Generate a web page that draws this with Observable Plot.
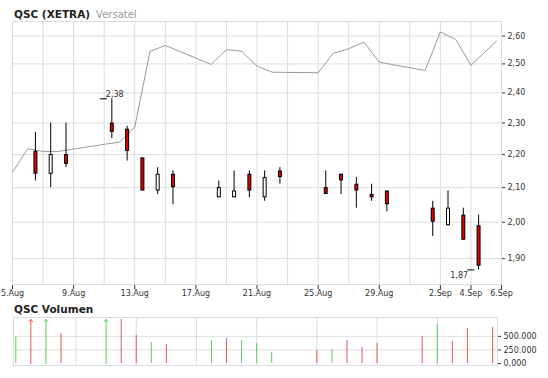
<!DOCTYPE html>
<html><head><meta charset="utf-8">
<script src="https://cdn.jsdelivr.net/npm/d3@7"></script>
<script src="https://cdn.jsdelivr.net/npm/@observablehq/plot@0.6"></script>
<style>
body{margin:0;background:#fff;font-family:"DejaVu Sans",Verdana,sans-serif;}
#wrap{position:relative;width:548px;height:378px;overflow:hidden;background:#fff}
.title{position:absolute;left:14px;font-size:10.5px;font-weight:bold;color:#222;white-space:nowrap;line-height:1}
.title span{font-weight:normal;color:#999;font-size:10px;margin-left:6px}
#main,#vol{position:absolute;left:0}
#main{top:0}
#vol{top:300px}
#main svg g[aria-label^="x-axis"] line{stroke-dasharray:1 1}
</style></head><body>
<div id="wrap">
  <div id="main"></div>
  <div id="vol"></div>
  <div class="title" style="top:8.6px">QSC (XETRA)<span>Versatel</span></div>
  <div class="title" style="top:304px">QSC Volumen</div>
</div>
<script>
// ---- Candles (QSC, XETRA) ----
const candleDays = ["2008-08-06","2008-08-07","2008-08-08","2008-08-11","2008-08-12","2008-08-13","2008-08-14","2008-08-15",
  "2008-08-18","2008-08-19","2008-08-20","2008-08-21","2008-08-22","2008-08-25","2008-08-26","2008-08-27","2008-08-28","2008-08-29",
  "2008-09-01","2008-09-02","2008-09-03","2008-09-04"];
const openP  = [2.21,2.14,2.20,2.30,2.28,2.19,2.09,2.14, 2.07,2.07,2.14,2.07,2.15,2.10,2.14,2.11,2.08,2.09, 2.04,1.99,2.02,1.99];
const highP  = [2.27,2.30,2.30,2.38,2.29,2.19,2.16,2.15, 2.12,2.15,2.15,2.15,2.16,2.15,2.14,2.13,2.11,2.09, 2.06,2.09,2.04,2.02];
const lowP   = [2.12,2.10,2.16,2.25,2.18,2.09,2.08,2.05, 2.07,2.07,2.07,2.06,2.11,2.08,2.08,2.04,2.06,2.03, 1.96,1.99,1.95,1.87];
const closeP = [2.14,2.20,2.17,2.27,2.21,2.09,2.14,2.10, 2.10,2.09,2.09,2.13,2.13,2.08,2.12,2.09,2.07,2.05, 2.00,2.04,1.95,1.88];

// ---- Comparison line (Versatel, in chart price units) ----
const lineTimes = ["2008-08-05T00:00","2008-08-06T00:00","2008-08-07T00:00","2008-08-08T00:00","2008-08-11T00:00","2008-08-12T00:00",
  "2008-08-13T00:00","2008-08-14T00:00","2008-08-15T00:00","2008-08-18T00:00","2008-08-19T00:00","2008-08-20T00:00","2008-08-21T00:00",
  "2008-08-22T00:00","2008-08-25T00:00","2008-08-26T00:00","2008-08-27T00:00","2008-08-28T00:00","2008-08-29T00:00",
  "2008-09-01T00:00","2008-09-02T00:00","2008-09-03T00:00","2008-09-04T00:00","2008-09-05T16:15"];
const lineValues = [2.146,2.218,2.210,2.210,2.232,2.239,2.287,2.545,2.566,2.498,2.551,2.545,2.492,2.471,2.469,2.538,2.554,2.578,2.506,
  2.477,2.615,2.588,2.495,2.582];

// ---- Volume ----
const volTimes = ["2008-08-05T00:00","2008-08-06T00:00","2008-08-07T00:00","2008-08-08T00:00","2008-08-11T00:00","2008-08-12T00:00",
  "2008-08-13T00:00","2008-08-14T00:00","2008-08-15T00:00","2008-08-18T00:00","2008-08-19T00:00","2008-08-20T00:00","2008-08-21T00:00",
  "2008-08-22T00:00","2008-08-25T00:00","2008-08-26T00:00","2008-08-27T00:00","2008-08-28T00:00","2008-08-29T00:00",
  "2008-09-01T00:00","2008-09-02T00:00","2008-09-03T00:00","2008-09-04T00:00","2008-09-05T16:15"];
const volValues = [485000,1200000,1000000,553000,1100000,811000,516000,387000,350000,424000,461000,424000,369000,203000,240000,258000,
  424000,295000,369000,498000,719000,406000,645000,664000];
const volUp = [1,0,1,0,1,0,0,1,0,1,0,1,1,1,0,1,0,0,0,0,1,0,0,0];

// ---- Axes ----
const xStart = "2008-08-05", xEnd = "2008-09-06";
const xTickDays = ["2008-08-05","2008-08-09","2008-08-13","2008-08-17","2008-08-21","2008-08-25","2008-08-29","2008-09-02","2008-09-04","2008-09-06"];
const xTickLabels = ["5.Aug","9.Aug","13.Aug","17.Aug","21.Aug","25.Aug","29.Aug","2.Sep","4.Sep","6.Sep"];
const yTicks = [1.9,2.0,2.1,2.2,2.3,2.4,2.5,2.6];
const yTickLabels = ["1,90","2,00","2,10","2,20","2,30","2,40","2,50","2,60"];
const yDomain = [1.832, 2.654];
const volTicks = [0,250000,500000];
const volTickLabels = ["0,000","250.000","500.000"];
const volMax = 848000;

// ---- build ----
const day = s => new Date(s + "T00:00Z");
const tm = s => new Date(s + "Z");
const xFrom = day(xStart), xTo = day(xEnd);
const candles = candleDays.map((s, i) => ({t: d3.utcHour.offset(day(s), 12), o: openP[i], h: highP[i], l: lowP[i], c: closeP[i]}));
const downC = candles.filter(d => d.c < d.o), upC = candles.filter(d => d.c >= d.o);
const lineData = lineTimes.map((s, i) => ({t: tm(s), v: lineValues[i]}));
const vol = volTimes.map((s, i) => ({t: tm(s), v: volValues[i], up: volUp[i] === 1}));
const xTicks = xTickDays.map(day);
const gridMain = d3.utcDay.range(xFrom, d3.utcDay.offset(xTo, 1), 2);
const gridVol = d3.utcDay.range(d3.utcDay.offset(xFrom, 4), xTo, 4);
const fmt = v => d3.format(".2f")(v).replace(".", ",");
const hiC = candles[d3.maxIndex(candles, d => d.h)];
const loC = candles[d3.minIndex(candles, d => d.l)];
const bodyTop = d => Math.max(d.o, d.c), bodyBot = d => Math.min(d.o, d.c);
const gridColor = "#dcdcdc";

const mainPlot = Plot.plot({
  width: 548, height: 300, marginTop: 21, marginBottom: 16, marginLeft: 12, marginRight: 47,
  style: {fontFamily: "'DejaVu Sans', Verdana, sans-serif", fontSize: "8px", color: "#333", background: "transparent"},
  x: {type: "utc", domain: [xFrom, xTo], ticks: xTicks, tickFormat: d => xTickLabels[xTicks.findIndex(t => +t === +d)], tickSize: 5, tickPadding: 1, label: null},
  y: {type: "log", domain: yDomain, axis: "right", ticks: yTicks, tickFormat: d => yTickLabels[yTicks.findIndex(t => Math.abs(t - d) < 1e-9)], tickSize: 3, tickPadding: 3, label: null},
  marks: [
    Plot.ruleY(yTicks, {stroke: gridColor}),
    Plot.ruleX(gridMain, {stroke: gridColor}),
    Plot.frame({stroke: gridColor}),
    Plot.line(lineData, {x: "t", y: "v", stroke: "#9a9a9a", strokeWidth: 1}),
    Plot.ruleX(candles, {x: "t", y1: "l", y2: "h", stroke: "#000", strokeWidth: 1}),
    Plot.ruleX(candles, {x: "t", y1: bodyTop, y2: bodyBot, stroke: "#000", strokeWidth: 4}),
    Plot.ruleX(downC, {x: "t", y1: bodyTop, y2: bodyBot, insetTop: 1, insetBottom: 1, stroke: "#e00000", strokeWidth: 2}),
    Plot.ruleX(upC, {x: "t", y1: bodyTop, y2: bodyBot, insetTop: 1, insetBottom: 1, stroke: "#fff", strokeWidth: 2}),
    Plot.ruleY([hiC], {y: "h", x1: d => d3.utcHour.offset(d.t, -18), x2: d => d3.utcHour.offset(d.t, -7), stroke: "#000"}),
    Plot.text([hiC], {x: "t", y: "h", text: d => fmt(d.h), textAnchor: "start", dx: -6, dy: -4, fill: "#333"}),
    Plot.ruleY([loC], {y: "l", x1: d => d3.utcHour.offset(d.t, -17), x2: d => d3.utcHour.offset(d.t, -6), stroke: "#000"}),
    Plot.text([loC], {x: "t", y: "l", text: d => fmt(d.l), textAnchor: "end", dx: -10.5, dy: 6, fill: "#333"})
  ]
});
document.getElementById("main").appendChild(mainPlot);

const clipped = vol.filter(d => d.v > volMax);
const shown = vol.filter(d => d.v <= volMax);
const volPlot = Plot.plot({
  width: 548, height: 78, marginTop: 17, marginBottom: 13, marginLeft: 13, marginRight: 51,
  style: {fontFamily: "'DejaVu Sans', Verdana, sans-serif", fontSize: "8px", color: "#333", background: "transparent"},
  x: {type: "utc", domain: [xFrom, xTo], insetLeft: 2.3, axis: null},
  y: {domain: [0, volMax], insetBottom: 2, axis: "right", ticks: volTicks, tickFormat: d => volTickLabels[volTicks.indexOf(d)], tickSize: 3, tickPadding: 3, label: null},
  marks: [
    Plot.ruleY(volTicks.slice(1), {stroke: gridColor}),
    Plot.ruleX(gridVol, {stroke: gridColor}),
    Plot.frame({stroke: gridColor}),
    Plot.ruleX(shown.filter(d => d.up), {x: "t", y1: 0, y2: "v", stroke: "#5ccc5c"}),
    Plot.ruleX(shown.filter(d => !d.up), {x: "t", y1: 0, y2: "v", stroke: "#e05a5a"}),
    Plot.arrow(clipped.filter(d => d.up), {x1: "t", x2: "t", y1: 0, y2: () => volMax, insetEnd: 2, headLength: 4, headAngle: 80, stroke: "#5ccc5c", strokeWidth: 1}),
    Plot.arrow(clipped.filter(d => !d.up), {x1: "t", x2: "t", y1: 0, y2: () => volMax, insetEnd: 2, headLength: 4, headAngle: 80, stroke: "#e05a5a", strokeWidth: 1})
  ]
});
document.getElementById("vol").appendChild(volPlot);
</script>
</body></html>
